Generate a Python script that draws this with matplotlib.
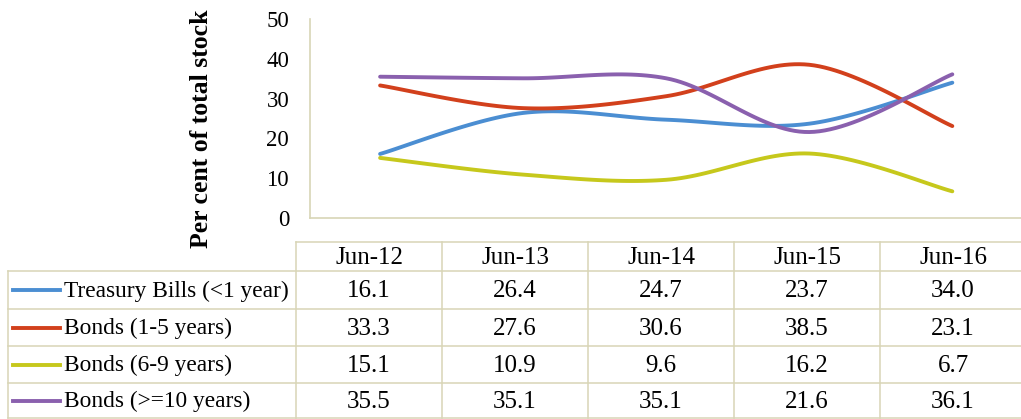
import matplotlib.pyplot as plt
import numpy as np

# data
periods = ["Jun-12", "Jun-13", "Jun-14", "Jun-15", "Jun-16"]
series_names = ["Treasury Bills (<1 year)", "Bonds (1-5 years)",
                "Bonds (6-9 years)", "Bonds (>=10 years)"]
treasury = [16.1, 26.4, 24.7, 23.7, 34.0]
bonds_1_5 = [33.3, 27.6, 30.6, 38.5, 23.1]
bonds_6_9 = [15.1, 10.9, 9.6, 16.2, 6.7]
bonds_10 = [35.5, 35.1, 35.1, 21.6, 36.1]
y_ticks = [0, 10, 20, 30, 40, 50]

colors = ["#4b8ed2", "#d2401c", "#c6c81c", "#8a60ae"]
grid_col = "#d8d5b6"
plt.rcParams['font.family'] = ['Liberation Serif', 'DejaVu Serif']

W, H = 1021, 419


def smooth(y, n=30):
    # excel-like smoothed line: catmull-rom segments between the points
    y = np.asarray(y, float)
    x = np.arange(len(y), dtype=float)
    px = np.concatenate([[x[0]], x, [x[-1]]])
    py = np.concatenate([[y[0]], y, [y[-1]]])
    xs, ys = [], []
    for i in range(1, len(px) - 2):
        t = np.linspace(0, 1, n)
        p0x, p1x, p2x, p3x = px[i - 1:i + 3]
        p0y, p1y, p2y, p3y = py[i - 1:i + 3]
        c1x, c1y = p1x + (p2x - p0x) / 6, p1y + (p2y - p0y) / 6
        c2x, c2y = p2x - (p3x - p1x) / 6, p2y - (p3y - p1y) / 6
        bx = (1-t)**3*p1x + 3*(1-t)**2*t*c1x + 3*(1-t)*t**2*c2x + t**3*p2x
        by = (1-t)**3*p1y + 3*(1-t)**2*t*c1y + 3*(1-t)*t**2*c2y + t**3*p2y
        xs.append(bx)
        ys.append(by)
    return np.concatenate(xs), np.concatenate(ys)


fig = plt.figure(figsize=(W / 100, H / 100), dpi=100)

# chart area in pixels: left 310, right 1021, top 19, bottom 218
ax = fig.add_axes([310 / W, 1 - 218 / H, (W - 310) / W, (218 - 19) / H])
for vals, c in zip([treasury, bonds_1_5, bonds_6_9, bonds_10], colors):
    sx, sy = smooth(vals)
    ax.plot(sx, sy, color=c, lw=2.8, solid_capstyle='round')
ax.set_xlim(-0.49, 4.48)
ax.set_ylim(0, 50)
ax.set_yticks(y_ticks)
ax.set_yticklabels([str(v) for v in y_ticks], fontsize=16.5)
ax.set_xticks([])
ax.tick_params(axis='y', length=0, pad=15)
for s in ['top', 'right']:
    ax.spines[s].set_visible(False)
for s in ['left', 'bottom']:
    ax.spines[s].set_color(grid_col)
    ax.spines[s].set_linewidth(1.2)

fig.text(201 / W, 1 - 129 / H, "Per cent of total stock", rotation=90,
         ha='center', va='center', fontsize=18.5, fontweight='bold')

# data table drawn in pixel coordinates
tb = fig.add_axes([0, 0, 1, 1])
tb.set_xlim(0, W)
tb.set_ylim(H, 0)
tb.axis('off')

col_edges = [296, 442, 588, 734, 880, 1026]
row_edges = [242, 271, 309, 346, 383, 418]
lk = dict(color=grid_col, lw=1.1)

tb.plot([296, W], [242, 242], **lk)
for yy in row_edges[1:]:
    tb.plot([8, W], [yy, yy], **lk)
tb.plot([8, 8], [271, 418], **lk)
for xx in col_edges[:-1]:
    tb.plot([xx, xx], [242, 418], **lk)

for j, p in enumerate(periods):
    xc = (col_edges[j] + col_edges[j + 1]) / 2
    tb.text(xc, (242 + 271) / 2 + 1, p, ha='center', va='center', fontsize=18)

table_vals = [treasury, bonds_1_5, bonds_6_9, bonds_10]
for i, (name, vals, c) in enumerate(zip(series_names, table_vals, colors)):
    yc = (row_edges[i + 1] + row_edges[i + 2]) / 2
    tb.plot([13, 60], [yc, yc], color=c, lw=2.8)
    tb.text(64, yc + 1, name, ha='left', va='center', fontsize=16.8)
    for j, v in enumerate(vals):
        xc = (col_edges[j] + col_edges[j + 1]) / 2
        tb.text(xc, yc + 1, f"{v:.1f}", ha='center', va='center', fontsize=18)

fig.savefig("out.png", dpi=100)
